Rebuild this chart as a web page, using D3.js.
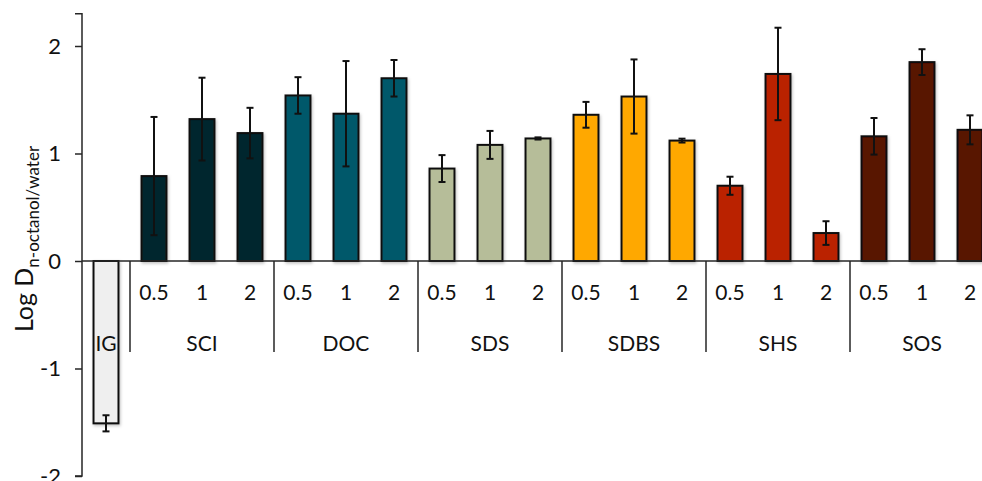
<!DOCTYPE html>
<html>
<head>
<meta charset="utf-8">
<script src="https://cdn.jsdelivr.net/npm/d3@7"></script>
<style>
html,body{margin:0;padding:0;background:#fff;}
svg{display:block;font-family:Lato,"Open Sans",sans-serif;}
</style>
</head>
<body>
<svg id="chart" width="982" height="481"></svg>
<script>
// ---- data ----
const groups = ["IG", "SCI", "DOC", "SDS", "SDBS", "SHS", "SOS"];
const doses = ["0.5", "1", "2"];
const groupColors = ["#efefef", "#02262f", "#03596b", "#b6bd99", "#ffa800", "#ba2300", "#591200"];
const valIG   = [-1.51];
const valSCI  = [0.79, 1.32, 1.19];
const valDOC  = [1.54, 1.37, 1.70];
const valSDS  = [0.86, 1.08, 1.14];
const valSDBS = [1.36, 1.53, 1.12];
const valSHS  = [0.70, 1.74, 0.26];
const valSOS  = [1.16, 1.85, 1.22];
const errIG   = [0.075];
const errSCI  = [0.55, 0.385, 0.235];
const errDOC  = [0.17, 0.49, 0.17];
const errSDS  = [0.125, 0.13, 0.01];
const errSDBS = [0.12, 0.345, 0.018];
const errSHS  = [0.084, 0.43, 0.11];
const errSOS  = [0.17, 0.12, 0.135];
const yTicks = [-2, -1, 0, 1, 2];
const yTickLabels = ["-2", "-1", "0", "1", "2"];

const allVals = [valIG, valSCI, valDOC, valSDS, valSDBS, valSHS, valSOS];
const allErrs = [errIG, errSCI, errDOC, errSDS, errSDBS, errSHS, errSOS];

// flatten into rows
const rows = [];
groups.forEach((g, gi) => {
  allVals[gi].forEach((v, i) => {
    rows.push({
      key: g + "_" + i,
      group: g,
      gi: gi,
      dose: g === "IG" ? null : doses[i],
      value: v,
      err: allErrs[gi][i],
      color: groupColors[gi]
    });
  });
});

// ---- layout ----
const svg = d3.select("#chart");
const axisX = 82;
const x = d3.scaleBand()
  .domain(rows.map(d => d.key))
  .range([axisX, axisX + rows.length * 48])
  .paddingInner(0.48)
  .paddingOuter(0.24);
const y = d3.scaleLinear().domain([-2, 2.3]).range([476, 13.75]);

const defs = svg.append("defs");
const f = defs.append("filter").attr("id", "shadow").attr("x", "-20%").attr("y", "-20%").attr("width", "140%").attr("height", "140%");
f.append("feDropShadow").attr("dx", 1).attr("dy", 1.5).attr("stdDeviation", 1.5)
  .attr("flood-color", "#000").attr("flood-opacity", 0.25);

// bars
svg.append("g").selectAll("rect").data(rows).join("rect")
  .attr("x", d => x(d.key))
  .attr("width", x.bandwidth())
  .attr("y", d => y(Math.max(0, d.value)))
  .attr("height", d => Math.abs(y(d.value) - y(0)))
  .attr("fill", d => d.color)
  .attr("stroke", "#111")
  .attr("stroke-width", 2)
  .attr("filter", "url(#shadow)");

// zero line
svg.append("line")
  .attr("x1", axisX).attr("x2", 982)
  .attr("y1", y(0)).attr("y2", y(0))
  .attr("stroke", "#262626").attr("stroke-width", 1.5);

// error bars
const eb = svg.append("g").attr("stroke", "#111").attr("stroke-width", 2);
rows.forEach(d => {
  const cx = x(d.key) + x.bandwidth() / 2;
  const y1 = y(d.value + d.err), y2 = y(d.value - d.err);
  eb.append("line").attr("x1", cx).attr("x2", cx).attr("y1", y1).attr("y2", y2);
  eb.append("line").attr("x1", cx - 3.5).attr("x2", cx + 3.5).attr("y1", y1).attr("y2", y1);
  eb.append("line").attr("x1", cx - 3.5).attr("x2", cx + 3.5).attr("y1", y2).attr("y2", y2);
});

// y axis
const yAxis = d3.axisLeft(y).tickValues(yTicks).tickSize(7).tickPadding(14)
  .tickFormat((d, i) => yTickLabels[i]);
const ya = svg.append("g").attr("transform", `translate(${axisX},0)`).call(yAxis);
ya.select(".domain").attr("stroke", "#262626").attr("stroke-width", 1.5)
  .attr("d", `M-7,${y(2.3)}H0V${y(-2)}H-7`);
ya.selectAll(".tick line").attr("stroke", "#262626").attr("stroke-width", 1.5);
ya.selectAll(".tick text").attr("font-size", 22).attr("fill", "#111")
  .attr("font-family", "Lato, sans-serif");

// category separators (group boundaries)
const sepG = svg.append("g").attr("stroke", "#262626").attr("stroke-width", 1.5);
const step = x.step();
groups.forEach((g, gi) => {
  if (gi === 0) return;
  const first = rows.find(r => r.gi === gi);
  const sx = x(first.key) - (step - x.bandwidth()) / 2;
  sepG.append("line").attr("x1", sx).attr("x2", sx).attr("y1", y(0)).attr("y2", 352);
});

// dose labels
svg.append("g").selectAll("text").data(rows.filter(d => d.dose !== null)).join("text")
  .attr("x", d => x(d.key) + x.bandwidth() / 2)
  .attr("y", 300)
  .attr("text-anchor", "middle")
  .attr("font-size", 21)
  .attr("fill", "#111")
  .text(d => d.dose);

// group labels
svg.append("g").selectAll("text").data(groups).join("text")
  .attr("x", (g, gi) => {
    const rs = rows.filter(r => r.gi === gi);
    return d3.mean(rs, r => x(r.key) + x.bandwidth() / 2);
  })
  .attr("y", 351)
  .attr("text-anchor", "middle")
  .attr("font-size", 21)
  .attr("fill", "#111")
  .text(g => g);

// y title
const title = svg.append("text")
  .attr("transform", "translate(33,239) rotate(-90)")
  .attr("text-anchor", "middle")
  .attr("fill", "#111");
title.append("tspan").attr("font-size", 25).text("Log D");
title.append("tspan").attr("font-size", 17).attr("dy", 6).text("n-octanol/water");
</script>
</body>
</html>
